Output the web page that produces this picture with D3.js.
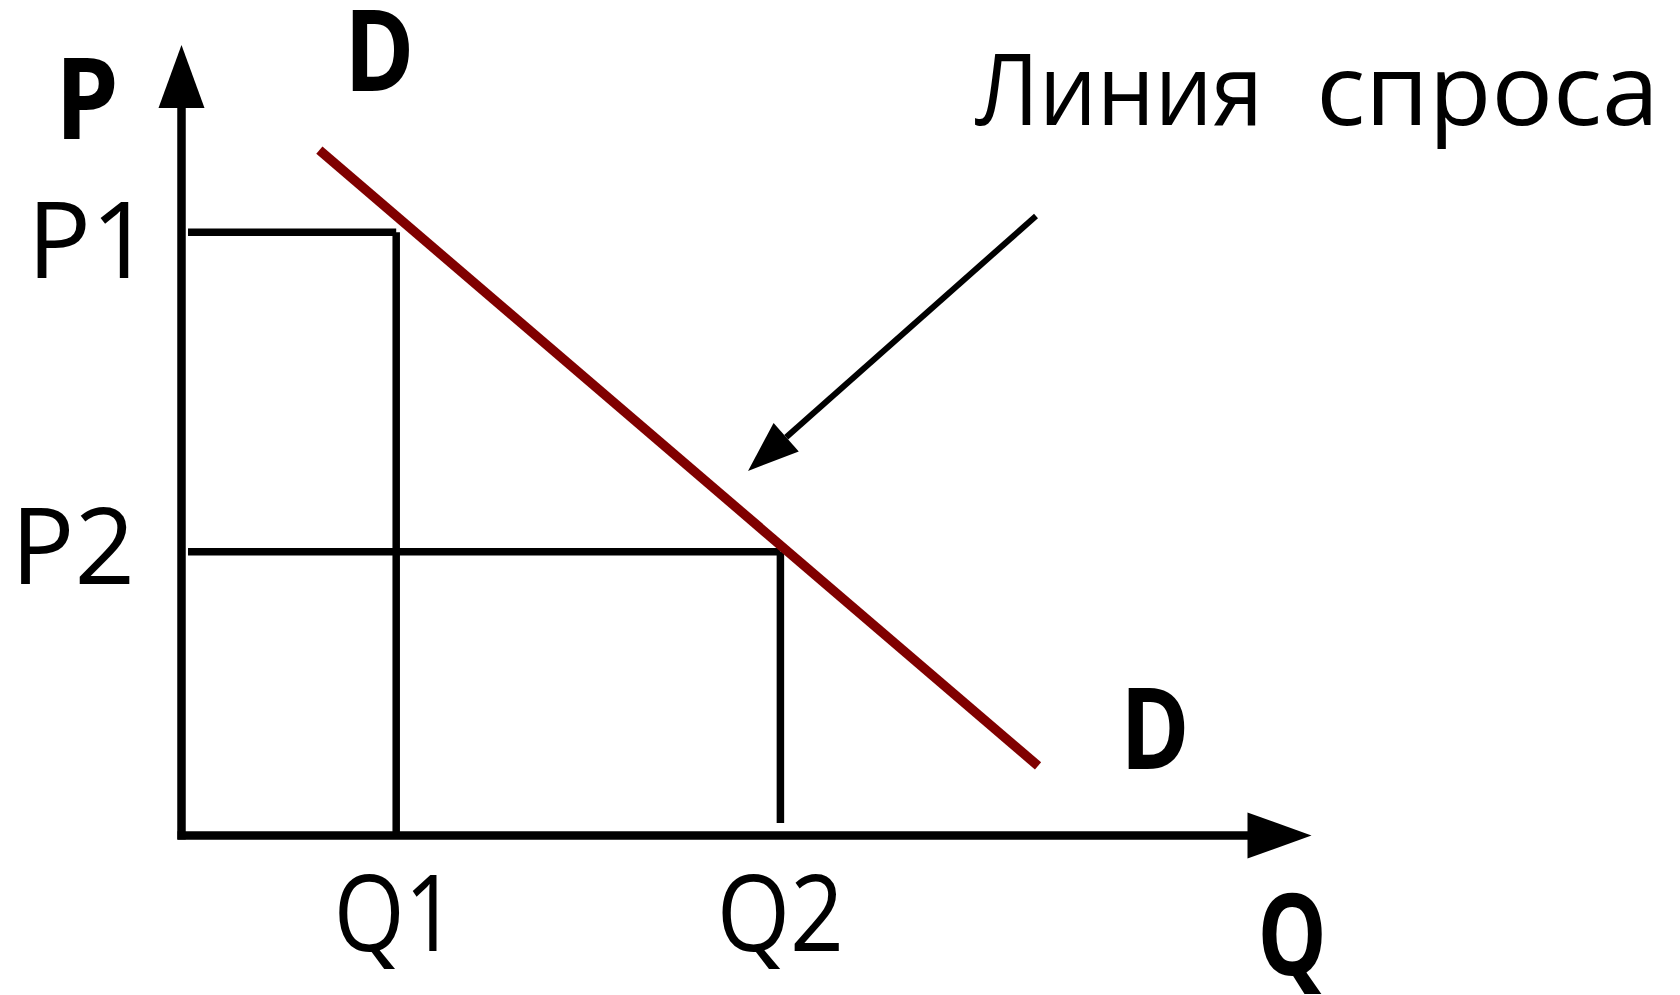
<!DOCTYPE html>
<html><head><meta charset="utf-8">
<script src="https://cdn.jsdelivr.net/npm/d3@7"></script>
<style>html,body{margin:0;padding:0;background:#fff;} svg{display:block;}</style>
</head><body>
<svg id="chart" width="1680" height="995"></svg>
<script>
// ---- data ----
const qLabels = ["Q1", "Q2"];
const qValues = [1.9, 5.3];
const pLabels = ["P1", "P2"];
const pValues = [7.63, 3.59];
const demandQ = [1.22, 7.58];
const demandP = [8.67, 0.88];
const curveLabels = ["D", "D"];
const axisTitles = ["P", "Q"];
const annotationWords = ["Линия", "спроса"];

// ---- drawing ----
const svg = d3.select("#chart");
const x = d3.scaleLinear().domain([0, 10]).range([181.5, 1311.5]);
const y = d3.scaleLinear().domain([0, 10]).range([835.5, 45]);
const FONT = "'Open Sans', 'Noto Sans', sans-serif";

// guide lines
const guides = svg.append("g").attr("stroke", "#000").attr("stroke-width", 7.5).attr("fill", "none");
guides.append("line").attr("x1", x(0) + 6.5).attr("x2", x(qValues[0])).attr("y1", y(pValues[0])).attr("y2", y(pValues[0]));
guides.append("line").attr("x1", x(qValues[0])).attr("x2", x(qValues[0])).attr("y1", y(pValues[0])).attr("y2", y(0));
guides.append("line").attr("x1", x(0) + 6.5).attr("x2", x(qValues[1])).attr("y1", y(pValues[1])).attr("y2", y(pValues[1]));
guides.append("line").attr("x1", x(qValues[1])).attr("x2", x(qValues[1])).attr("y1", y(pValues[1])).attr("y2", y(0) - 12.5);

// axes
const axes = svg.append("g");
axes.append("line").attr("x1", x(0)).attr("x2", x(0)).attr("y1", y(10) + 60).attr("y2", y(0) + 4)
  .attr("stroke", "#000").attr("stroke-width", 8.5);
axes.append("line").attr("x1", x(0) - 4).attr("x2", x(10) - 60).attr("y1", y(0)).attr("y2", y(0))
  .attr("stroke", "#000").attr("stroke-width", 8.5);
axes.append("path").attr("fill", "#000")
  .attr("d", `M${x(0)},${y(10)} L${x(0) - 23},${y(10) + 63} L${x(0) + 23},${y(10) + 63} Z`);
axes.append("path").attr("fill", "#000")
  .attr("d", `M${x(10)},${y(0)} L${x(10) - 64},${y(0) - 23} L${x(10) - 64},${y(0) + 23} Z`);

// demand line
svg.append("line")
  .attr("x1", x(demandQ[0])).attr("y1", y(demandP[0]))
  .attr("x2", x(demandQ[1])).attr("y2", y(demandP[1]))
  .attr("stroke", "#800000").attr("stroke-width", 9.5);

// annotation arrow
const tip = [748, 471], tail = [1036, 216];
const ang = Math.atan2(tail[1] - tip[1], tail[0] - tip[0]);
const hl = 51, hw = 19;
const bx = tip[0] + hl * Math.cos(ang), by = tip[1] + hl * Math.sin(ang);
svg.append("line").attr("x1", tail[0]).attr("y1", tail[1]).attr("x2", bx).attr("y2", by)
  .attr("stroke", "#000").attr("stroke-width", 6);
svg.append("path").attr("fill", "#000")
  .attr("d", `M${tip[0]},${tip[1]} L${bx + hw * Math.sin(ang)},${by - hw * Math.cos(ang)} L${bx - hw * Math.sin(ang)},${by + hw * Math.cos(ang)} Z`);

// text helper: anchored at (ax, base), horizontally scaled by sx
const labelG = svg.append("g").attr("font-family", FONT).attr("fill", "#000");
function addText(str, ax, base, size, weight, anchor, sx) {
  labelG.append("g").attr("transform", `translate(${ax},${base}) scale(${sx},1)`)
    .append("text").attr("x", 0).attr("y", 0).attr("text-anchor", anchor)
    .attr("font-size", size).attr("font-weight", weight).text(str);
}

// tick labels
const pPos = [{ax: x(0) - 30, sx: 1.0}, {ax: x(0) - 46.5, sx: 1.0}];
const pBase = [278, 584];
pLabels.forEach((t, i) => addText(t, pPos[i].ax, pBase[i], 106, 400, "end", pPos[i].sx));
const qPos = [{dx: -1, sx: 0.86}, {dx: 0, sx: 0.89}];
qLabels.forEach((t, i) => addText(t, x(qValues[i]) + qPos[i].dx, 951, 106, 400, "middle", qPos[i].sx));

// axis titles
addText(axisTitles[0], 87, 139, 113, 700, "middle", 0.9);
addText(axisTitles[1], 1292, 975, 113, 700, "middle", 0.77);

// curve labels
addText(curveLabels[0], 379.5, 91, 113, 700, "middle", 0.84);
addText(curveLabels[1], 1155, 769, 113, 700, "middle", 0.83);

// annotation text
addText(annotationWords[0], 975, 125, 98, 400, "start", 0.93);
addText(annotationWords[1], 1659, 125, 98, 400, "end", 1.045);
</script>
</body></html>
